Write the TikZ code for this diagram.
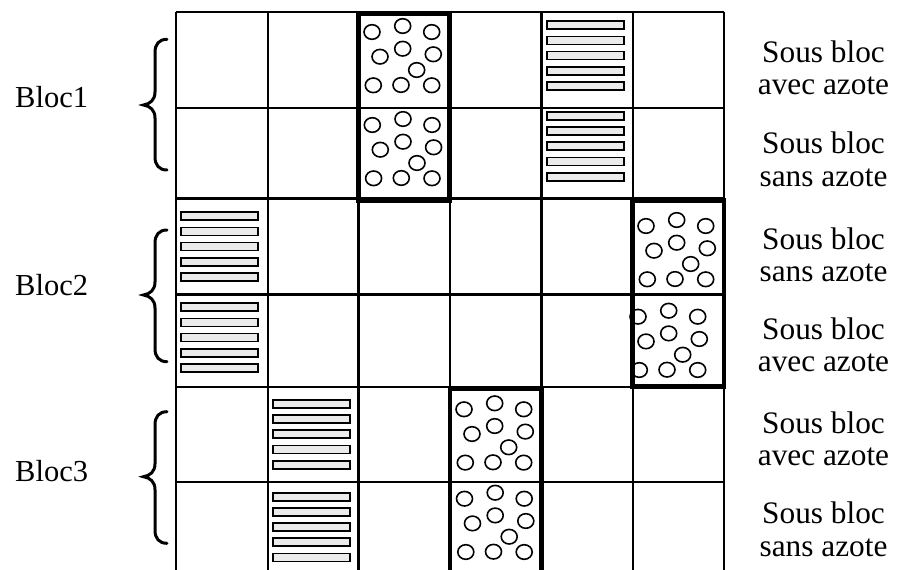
\documentclass[tikz,border=0pt]{standalone}
\usepackage{fontspec}
\setmainfont{Liberation Serif}
\newcommand\mybrace[3]{%
  \draw[bracestyle] (167,#1) .. controls (159,#1) and (155,#1+5) .. (155,#1+13)
    -- (155,#2-13) .. controls (155,#2-5) and (150,#2-1) .. (143.5,#2)
    .. controls (150,#2+1) and (155,#2+5) .. (155,#2+13)
    -- (155,#3-13) .. controls (155,#3-5) and (159,#3) .. (167,#3);}
\begin{document}
\begin{tikzpicture}[x=1pt,y=-1pt,
  gridline/.style={line width=2.3pt,black},
  thickbox/.style={line width=4.6pt,black},
  stripe/.style={line width=1.7pt,draw=black,fill=black!8},
  bead/.style={line width=1.6pt,draw=black,fill=white},
  bracestyle/.style={line width=3pt,line cap=round},
  lab/.style={font=\fontsize{31.3}{32}\selectfont,inner sep=0pt,anchor=base},
  blab/.style={font=\fontsize{30.5}{32}\selectfont,inner sep=0pt,anchor=base west}]
\useasboundingbox (0,0) rectangle (902,570);
% grid
\foreach \x in {175.7,267.7,358.5,450,541.5,632.7,724}
  \draw[gridline] (\x,12) -- (\x,572);
\foreach \y in {12,107.7,198.5,294.5,386.7,481.7}
  \draw[gridline] (175.7,\y) -- (724,\y);
% stripes: cell x, first top y
\foreach \cx/\fy in {546.7/21.3, 546.7/112, 181/212.3, 181/303.3, 273.3/400, 273.3/492.7}
  \foreach \k in {0,...,4}
    \draw[stripe] (\cx,\fy+15.17*\k) rectangle (\cx+77,\fy+15.17*\k+8);
% beads: cell origin + offset
\foreach \ox/\oy in {358.5/12, 358.8/105, 632.5/206, 624.5/296.7, 450.5/389.3, 451/478.7}
  \foreach \px/\py in {13.5/20,44.2/14,73.2/20,21.5/44.7,44.2/36.7,74.8/42.3,58.2/58,14.8/73.3,42.5/73,73.2/73.3}
    \draw[bead] (\ox+\px,\oy+\py) ellipse [x radius=8pt, y radius=7.3pt];
% thick boxes
\draw[thickbox] (358.7,14) rectangle (449.7,200.5);
\draw[thickbox] (632.7,200.5) rectangle (724,386.7);
\draw[thickbox] (450,574) -- (450,388.5) -- (541.5,388.5) -- (541.5,574);
% braces
\mybrace{39.3}{105}{170}
\mybrace{230}{295}{361.7}
\mybrace{411.7}{476.7}{543.3}
% left labels
\node[blab] (b1) at (15,107.3) {Bloc1};
\node[blab] (b2) at (15,295) {Bloc2};
\node[blab] (b3) at (15,481.7) {Bloc3};
% right labels
\node[lab] (s1a) at (823.5,62) {Sous bloc};
\node[lab] (s1b) at (823.5,94.3) {avec azote};
\node[lab] (s2a) at (823.5,153.3) {Sous bloc};
\node[lab] (s2b) at (823.5,186.7) {sans azote};
\node[lab] (s3a) at (823.5,249.3) {Sous bloc};
\node[lab] (s3b) at (823.5,281.7) {sans azote};
\node[lab] (s4a) at (823.5,339.3) {Sous bloc};
\node[lab] (s4b) at (823.5,371.7) {avec azote};
\node[lab] (s5a) at (823.5,433.3) {Sous bloc};
\node[lab] (s5b) at (823.5,465) {avec azote};
\node[lab] (s6a) at (823.5,523.3) {Sous bloc};
\node[lab] (s6b) at (823.5,556.7) {sans azote};
\end{tikzpicture}
\end{document}
